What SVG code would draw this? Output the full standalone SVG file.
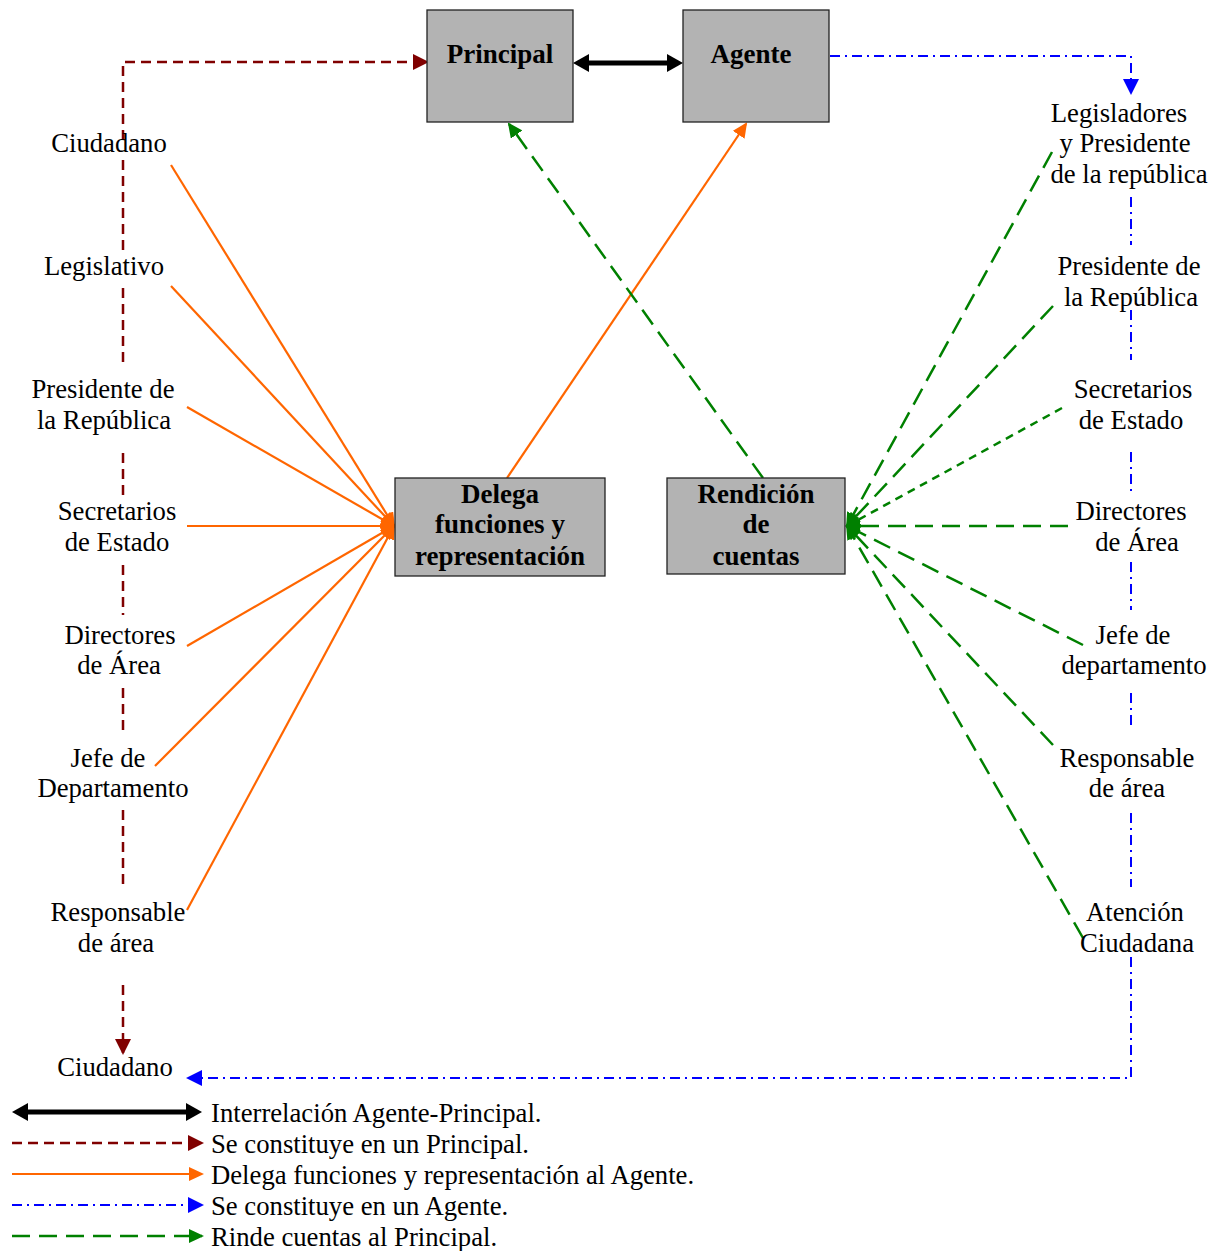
<svg xmlns="http://www.w3.org/2000/svg" width="1214" height="1251" viewBox="0 0 1214 1251">
  <style>
    .box { fill: #b3b3b3; stroke: #222; stroke-width: 1.3; }
    .btxt { font-family: "Liberation Serif", "Times New Roman", serif; font-weight: bold; font-size: 27px; text-anchor: middle; fill: #000; }
    .lbl { font-family: "Liberation Serif", "Times New Roman", serif; font-size: 26.7px; text-anchor: middle; fill: #000; }
    .leg { font-family: "Liberation Serif", "Times New Roman", serif; font-size: 26.7px; fill: #000; }
    .red { stroke: #800000; stroke-width: 2.5; stroke-dasharray: 10 6; fill: none; }
    .orange { stroke: #ff6600; stroke-width: 2.2; fill: none; }
    .blue { stroke: #0000ff; stroke-width: 2; stroke-dasharray: 10 5 2 5; fill: none; }
    .green { stroke: #008000; stroke-width: 2.5; stroke-dasharray: 18 9; fill: none; }
    .green-short { stroke: #008000; stroke-width: 2.5; stroke-dasharray: 8 6; fill: none; }
    .black { stroke: #000; stroke-width: 5; fill: none; }
  </style>
  <defs>
    <marker id="ah-red" markerUnits="userSpaceOnUse" markerWidth="16" markerHeight="16" refX="14" refY="8" orient="auto">
      <path d="M0,0 L16,8 L0,16 z" fill="#800000"/>
    </marker>
    <marker id="ah-orange" markerUnits="userSpaceOnUse" markerWidth="15" markerHeight="14" refX="13" refY="7" orient="auto">
      <path d="M0,0 L15,7 L0,14 z" fill="#ff6600"/>
    </marker>
    <marker id="ah-green" markerUnits="userSpaceOnUse" markerWidth="15" markerHeight="14" refX="13" refY="7" orient="auto">
      <path d="M0,0 L15,7 L0,14 z" fill="#008000"/>
    </marker>
    <marker id="ah-blue" markerUnits="userSpaceOnUse" markerWidth="16" markerHeight="16" refX="14" refY="8" orient="auto">
      <path d="M0,0 L16,8 L0,16 z" fill="#0000ff"/>
    </marker>
    <marker id="ah-black" markerUnits="userSpaceOnUse" markerWidth="16" markerHeight="18" refX="4" refY="9" orient="auto-start-reverse">
      <path d="M0,0 L16,9 L0,18 z" fill="#000"/>
    </marker>
  </defs>

  <!-- connectors -->
  <g id="connectors">
    <!-- Principal <-> Agente -->
    <line class="black" x1="585" y1="63" x2="671" y2="63" marker-start="url(#ah-black)" marker-end="url(#ah-black)"/>

    <!-- citizen becomes principal (left dark red chain) -->
    <path class="red" d="M123,140 V62 H427" marker-end="url(#ah-red)"/>
    <path class="red" d="M123,160 V252 M123,288 V364 M123,453 V500 M123,565 V615 M123,688 V736 M123,810 V888 M123,985 V1053" marker-end="url(#ah-red)"/>

    <!-- agent chain (right blue) -->
    <path class="blue" d="M830,56 H1131 V93" marker-end="url(#ah-blue)"/>
    <path class="blue" d="M1131,197 V245 M1131,310 V360 M1131,452 V492 M1131,562 V610 M1131,693 V727 M1131,813 V887 M1131,957 V1078 H188" marker-end="url(#ah-blue)"/>

    <!-- delegation to the central box -->
    <line class="orange" x1="171" y1="165" x2="394" y2="526" marker-end="url(#ah-orange)"/>
    <line class="orange" x1="171" y1="286" x2="394" y2="526" marker-end="url(#ah-orange)"/>
    <line class="orange" x1="187" y1="407" x2="394" y2="526" marker-end="url(#ah-orange)"/>
    <line class="orange" x1="187" y1="526" x2="394" y2="526" marker-end="url(#ah-orange)"/>
    <line class="orange" x1="187" y1="646" x2="394" y2="526" marker-end="url(#ah-orange)"/>
    <line class="orange" x1="155" y1="766" x2="394" y2="526" marker-end="url(#ah-orange)"/>
    <line class="orange" x1="187" y1="910" x2="394" y2="526" marker-end="url(#ah-orange)"/>
    <line class="orange" x1="507" y1="478" x2="746" y2="124" marker-end="url(#ah-orange)"/>

    <!-- accountability to the central box -->
    <line class="green" x1="1052" y1="152" x2="847" y2="526" marker-end="url(#ah-green)"/>
    <line class="green" x1="1053" y1="306" x2="847" y2="526" marker-end="url(#ah-green)"/>
    <line class="green-short" x1="1062" y1="408" x2="847" y2="526" marker-end="url(#ah-green)"/>
    <line class="green" x1="1068" y1="526" x2="847" y2="526" marker-end="url(#ah-green)"/>
    <line class="green" x1="1083" y1="645" x2="847" y2="526" marker-end="url(#ah-green)"/>
    <line class="green" x1="1053" y1="745" x2="847" y2="526" marker-end="url(#ah-green)"/>
    <line class="green" x1="1083" y1="938" x2="847" y2="526" marker-end="url(#ah-green)"/>
    <line class="green" x1="763" y1="478" x2="509" y2="124" marker-end="url(#ah-green)"/>
  </g>

  <!-- main boxes -->
  <g id="principal">
    <rect class="box" x="427" y="10" width="146" height="112"/>
    <text class="btxt" x="500" y="63">Principal</text>
  </g>
  <g id="agente">
    <rect class="box" x="683" y="10" width="146" height="112"/>
    <text class="btxt" x="751" y="63">Agente</text>
  </g>
  <g id="delega">
    <rect class="box" x="395" y="478" width="210" height="98"/>
    <text class="btxt"><tspan x="500" y="503">Delega</tspan><tspan x="500" y="533">funciones y</tspan><tspan x="500" y="565">representación</tspan></text>
  </g>
  <g id="rendicion">
    <rect class="box" x="667" y="478" width="178" height="96"/>
    <text class="btxt"><tspan x="756" y="503">Rendición</tspan><tspan x="756" y="533">de</tspan><tspan x="756" y="565">cuentas</tspan></text>
  </g>

  <!-- left column -->
  <g id="l-ciudadano"><text class="lbl" x="109" y="152">Ciudadano</text></g>
  <g id="l-legislativo"><text class="lbl" x="104" y="275">Legislativo</text></g>
  <g id="l-presidente"><text class="lbl"><tspan x="103" y="398">Presidente de</tspan><tspan x="104" y="429">la República</tspan></text></g>
  <g id="l-secretarios"><text class="lbl"><tspan x="117" y="520">Secretarios</tspan><tspan x="117" y="551">de Estado</tspan></text></g>
  <g id="l-directores"><text class="lbl"><tspan x="120" y="644">Directores</tspan><tspan x="119" y="674">de Área</tspan></text></g>
  <g id="l-jefe"><text class="lbl"><tspan x="108" y="767">Jefe de</tspan><tspan x="113" y="797">Departamento</tspan></text></g>
  <g id="l-responsable"><text class="lbl"><tspan x="118" y="921">Responsable</tspan><tspan x="116" y="952">de área</tspan></text></g>
  <g id="l-ciudadano-final"><text class="lbl" x="115" y="1076">Ciudadano</text></g>

  <!-- right column -->
  <g id="r-legisladores"><text class="lbl"><tspan x="1119" y="122">Legisladores</tspan><tspan x="1125" y="152">y Presidente</tspan><tspan x="1129" y="183">de la república</tspan></text></g>
  <g id="r-presidente"><text class="lbl"><tspan x="1129" y="275">Presidente de</tspan><tspan x="1131" y="306">la República</tspan></text></g>
  <g id="r-secretarios"><text class="lbl"><tspan x="1133" y="398">Secretarios</tspan><tspan x="1131" y="429">de Estado</tspan></text></g>
  <g id="r-directores"><text class="lbl"><tspan x="1131" y="520">Directores</tspan><tspan x="1137" y="551">de Área</tspan></text></g>
  <g id="r-jefe"><text class="lbl"><tspan x="1133" y="644">Jefe de</tspan><tspan x="1134" y="674">departamento</tspan></text></g>
  <g id="r-responsable"><text class="lbl"><tspan x="1127" y="767">Responsable</tspan><tspan x="1127" y="797">de área</tspan></text></g>
  <g id="r-atencion"><text class="lbl"><tspan x="1135" y="921">Atención</tspan><tspan x="1137" y="952">Ciudadana</tspan></text></g>

  <!-- legend -->
  <g id="legend">
    <line class="black" x1="24" y1="1112" x2="190" y2="1112" marker-start="url(#ah-black)" marker-end="url(#ah-black)"/>
    <line class="red" x1="12" y1="1143" x2="202" y2="1143" marker-end="url(#ah-red)"/>
    <line class="orange" x1="12" y1="1174" x2="202" y2="1174" marker-end="url(#ah-orange)"/>
    <line class="blue" x1="12" y1="1205" x2="202" y2="1205" marker-end="url(#ah-blue)"/>
    <line class="green" x1="12" y1="1236" x2="202" y2="1236" marker-end="url(#ah-green)"/>
    <text class="leg" x="211" y="1122">Interrelación Agente-Principal.</text>
    <text class="leg" x="211" y="1153">Se constituye en un Principal.</text>
    <text class="leg" x="211" y="1184">Delega funciones y representación al Agente.</text>
    <text class="leg" x="211" y="1215">Se constituye en un Agente.</text>
    <text class="leg" x="211" y="1246">Rinde cuentas al Principal.</text>
  </g>
</svg>
